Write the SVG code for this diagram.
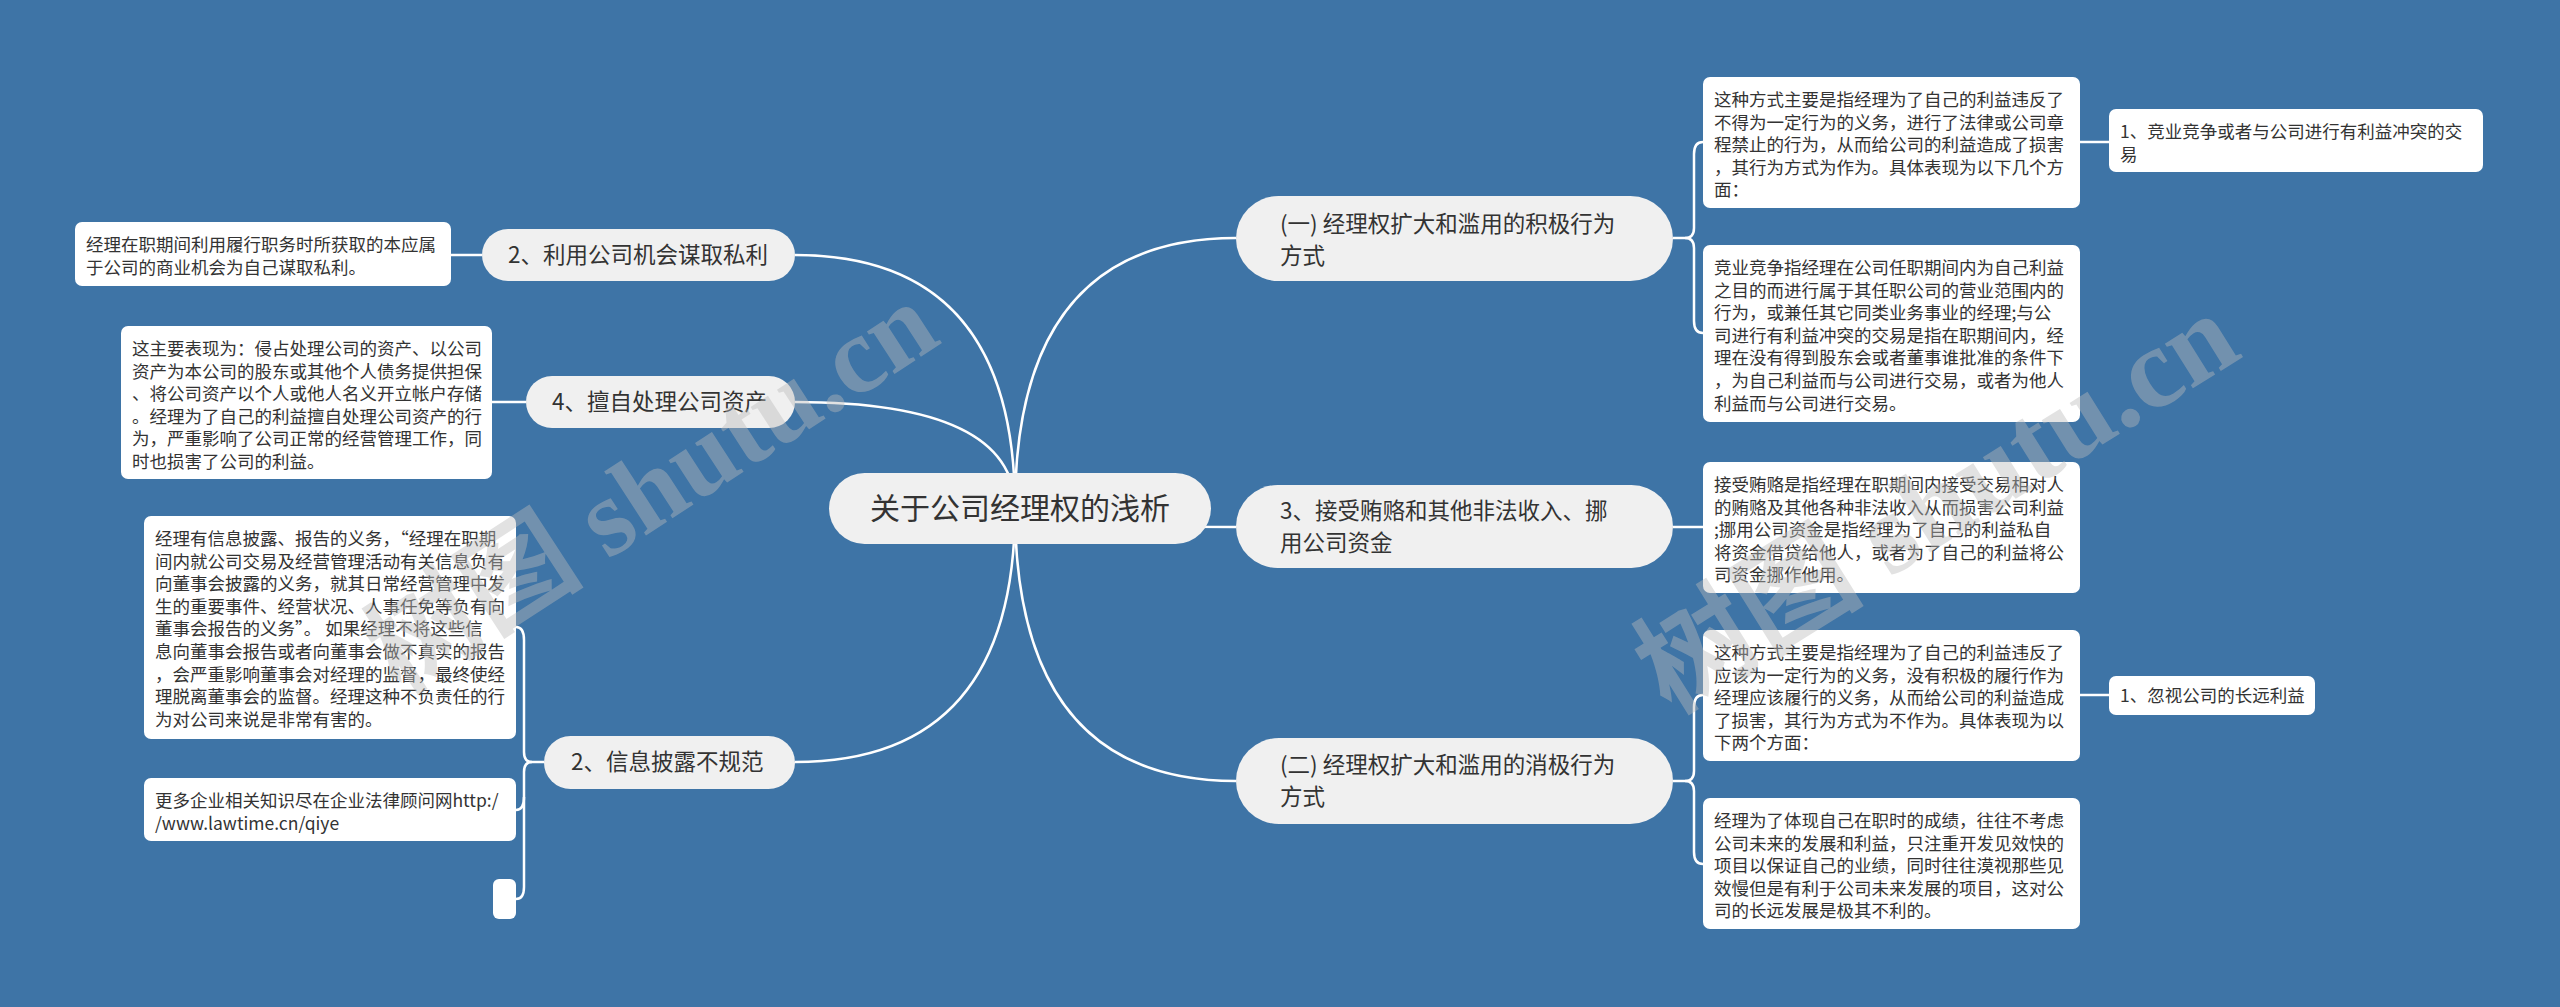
<svg xmlns="http://www.w3.org/2000/svg" width="2560" height="1007" viewBox="0 0 2560 1007">
<style>
.bg{fill:#3e74a6}
.root{fill:#f0f0f0}
.branch{fill:#f0f0f0}
.leaf{fill:#ffffff}
.ln{fill:none;stroke:#ffffff;stroke-width:2.5}
.t{font-family:"Noto Sans CJK SC","Noto Sans",sans-serif;fill:#333333}
.tr{font-size:30px}
.tb{font-size:22.5px}
.tl{font-size:17.5px}
.wm{font-family:"Liberation Serif","Noto Sans CJK SC",serif;font-weight:bold;fill:#bbbbbb;opacity:0.42}
</style>
<rect class="bg" x="0" y="0" width="2560" height="1007"/>

<g id="connectors">
<path class="ln" d="M1015 508 Q1015 255 795 255"/>
<path class="ln" d="M1015 508 Q1015 402 795 402"/>
<path class="ln" d="M1015 508 Q1015 762 795 762"/>
<path class="ln" d="M1015 508 Q1015 238 1236 238"/>
<path class="ln" d="M1015 508 Q1015 527 1236 527"/>
<path class="ln" d="M1015 508 Q1015 781 1236 781"/>
<path class="ln" d="M482 255 H451"/>
<path class="ln" d="M526 402 H492"/>
<path class="ln" d="M544 762 H532 Q524 762 524 752 V640 Q524 627 516 627"/>
<path class="ln" d="M532 762 Q524 762 524 772 V797 Q524 810 516 810"/>
<path class="ln" d="M524 797 V887 Q524 899 516 899"/>
<path class="ln" d="M1673 238 H1685 Q1694 238 1694 228 V154 Q1694 142 1703 142"/>
<path class="ln" d="M1685 238 Q1694 238 1694 248 V321 Q1694 333 1703 333"/>
<path class="ln" d="M1673 527 H1703"/>
<path class="ln" d="M1673 781 H1685 Q1694 781 1694 771 V707 Q1694 695 1703 695"/>
<path class="ln" d="M1685 781 Q1694 781 1694 791 V852 Q1694 864 1703 864"/>
<path class="ln" d="M2080 142 H2109"/>
<path class="ln" d="M2080 695 H2109"/>
</g>

<g id="root">
<rect class="root" x="829" y="473" width="382" height="71" rx="35.5"/>
<text class="t tr" x="1020" y="519" text-anchor="middle">关于公司经理权的浅析</text>
</g>

<g id="n-left1">
<rect class="branch" x="482" y="229" width="313" height="52" rx="26"/>
<text class="t tb" x="508" y="263">2、利用公司机会谋取私利</text>
</g>
<g id="n-left2">
<rect class="branch" x="526" y="376" width="269" height="52" rx="26"/>
<text class="t tb" x="552" y="410">4、擅自处理公司资产</text>
</g>
<g id="n-left3">
<rect class="branch" x="544" y="736" width="251" height="53" rx="26.5"/>
<text class="t tb" x="571" y="770">2、信息披露不规范</text>
</g>

<g id="n-right1">
<rect class="branch" x="1236" y="196" width="437" height="85" rx="42.5"/>
<text class="t tb" x="1280" y="232">(一) 经理权扩大和滥用的积极行为</text>
<text class="t tb" x="1280" y="264">方式</text>
</g>
<g id="n-right2">
<rect class="branch" x="1236" y="485" width="437" height="83" rx="41.5"/>
<text class="t tb" x="1280" y="519">3、接受贿赂和其他非法收入、挪</text>
<text class="t tb" x="1280" y="551">用公司资金</text>
</g>
<g id="n-right3">
<rect class="branch" x="1236" y="738" width="437" height="86" rx="43"/>
<text class="t tb" x="1280" y="773">(二) 经理权扩大和滥用的消极行为</text>
<text class="t tb" x="1280" y="805">方式</text>
</g>

<g id="leaf-LA">
<rect class="leaf" x="75" y="222" width="376" height="64" rx="7"/>
<text class="t tl" x="86" y="251">经理在职期间利用履行职务时所获取的本应属</text>
<text class="t tl" x="86" y="273.6">于公司的商业机会为自己谋取私利。</text>
</g>

<g id="leaf-LB">
<rect class="leaf" x="121" y="326" width="371" height="153" rx="7"/>
<text class="t tl" x="132" y="355">这主要表现为：侵占处理公司的资产、以公司</text>
<text class="t tl" x="132" y="377.6">资产为本公司的股东或其他个人债务提供担保</text>
<text class="t tl" x="132" y="400.2">、将公司资产以个人或他人名义开立帐户存储</text>
<text class="t tl" x="132" y="422.8">。经理为了自己的利益擅自处理公司资产的行</text>
<text class="t tl" x="132" y="445.4">为，严重影响了公司正常的经营管理工作，同</text>
<text class="t tl" x="132" y="468">时也损害了公司的利益。</text>
</g>

<g id="leaf-LC">
<rect class="leaf" x="144" y="516" width="372" height="223" rx="7"/>
<text class="t tl" x="155" y="545">经理有信息披露、报告的义务，“经理在职期</text>
<text class="t tl" x="155" y="567.6">间内就公司交易及经营管理活动有关信息负有</text>
<text class="t tl" x="155" y="590.2">向董事会披露的义务，就其日常经营管理中发</text>
<text class="t tl" x="155" y="612.8">生的重要事件、经营状况、人事任免等负有向</text>
<text class="t tl" x="155" y="635.4">董事会报告的义务”。 如果经理不将这些信</text>
<text class="t tl" x="155" y="658">息向董事会报告或者向董事会做不真实的报告</text>
<text class="t tl" x="155" y="680.6">，会严重影响董事会对经理的监督，最终使经</text>
<text class="t tl" x="155" y="703.2">理脱离董事会的监督。经理这种不负责任的行</text>
<text class="t tl" x="155" y="725.8">为对公司来说是非常有害的。</text>
</g>

<g id="leaf-LD">
<rect class="leaf" x="144" y="778" width="372" height="63" rx="7"/>
<text class="t tl" x="155" y="807">更多企业相关知识尽在企业法律顾问网http:/</text>
<text class="t tl" x="155" y="829.6">/www.lawtime.cn/qiye</text>
</g>

<g id="leaf-LE">
<rect class="leaf" x="493" y="879" width="23" height="40" rx="6"/>
</g>

<g id="leaf-a">
<rect class="leaf" x="1703" y="77" width="377" height="131" rx="7"/>
<text class="t tl" x="1714" y="106">这种方式主要是指经理为了自己的利益违反了</text>
<text class="t tl" x="1714" y="128.6">不得为一定行为的义务，进行了法律或公司章</text>
<text class="t tl" x="1714" y="151.2">程禁止的行为，从而给公司的利益造成了损害</text>
<text class="t tl" x="1714" y="173.8">，其行为方式为作为。具体表现为以下几个方</text>
<text class="t tl" x="1714" y="196.4">面：</text>
</g>

<g id="leaf-b">
<rect class="leaf" x="2109" y="109" width="374" height="63" rx="7"/>
<text class="t tl" x="2120" y="138">1、竞业竞争或者与公司进行有利益冲突的交</text>
<text class="t tl" x="2120" y="160.6">易</text>
</g>

<g id="leaf-c">
<rect class="leaf" x="1703" y="245" width="377" height="177" rx="7"/>
<text class="t tl" x="1714" y="274">竞业竞争指经理在公司任职期间内为自己利益</text>
<text class="t tl" x="1714" y="296.6">之目的而进行属于其任职公司的营业范围内的</text>
<text class="t tl" x="1714" y="319.2">行为，或兼任其它同类业务事业的经理;与公</text>
<text class="t tl" x="1714" y="341.8">司进行有利益冲突的交易是指在职期间内，经</text>
<text class="t tl" x="1714" y="364.4">理在没有得到股东会或者董事谁批准的条件下</text>
<text class="t tl" x="1714" y="387">，为自己利益而与公司进行交易，或者为他人</text>
<text class="t tl" x="1714" y="409.6">利益而与公司进行交易。</text>
</g>

<g id="leaf-d">
<rect class="leaf" x="1703" y="462" width="377" height="131" rx="7"/>
<text class="t tl" x="1714" y="491">接受贿赂是指经理在职期间内接受交易相对人</text>
<text class="t tl" x="1714" y="513.6">的贿赂及其他各种非法收入从而损害公司利益</text>
<text class="t tl" x="1714" y="536.2">;挪用公司资金是指经理为了自己的利益私自</text>
<text class="t tl" x="1714" y="558.8">将资金借贷给他人，或者为了自己的利益将公</text>
<text class="t tl" x="1714" y="581.4">司资金挪作他用。</text>
</g>

<g id="leaf-e">
<rect class="leaf" x="1703" y="630" width="377" height="131" rx="7"/>
<text class="t tl" x="1714" y="659">这种方式主要是指经理为了自己的利益违反了</text>
<text class="t tl" x="1714" y="681.6">应该为一定行为的义务，没有积极的履行作为</text>
<text class="t tl" x="1714" y="704.2">经理应该履行的义务，从而给公司的利益造成</text>
<text class="t tl" x="1714" y="726.8">了损害，其行为方式为不作为。具体表现为以</text>
<text class="t tl" x="1714" y="749.4">下两个方面：</text>
</g>

<g id="leaf-f">
<rect class="leaf" x="2109" y="676" width="206" height="39" rx="7"/>
<text class="t tl" x="2120" y="701.5">1、忽视公司的长远利益</text>
</g>

<g id="leaf-g">
<rect class="leaf" x="1703" y="798" width="377" height="131" rx="7"/>
<text class="t tl" x="1714" y="827">经理为了体现自己在职时的成绩，往往不考虑</text>
<text class="t tl" x="1714" y="849.6">公司未来的发展和利益，只注重开发见效快的</text>
<text class="t tl" x="1714" y="872.2">项目以保证自己的业绩，同时往往漠视那些见</text>
<text class="t tl" x="1714" y="894.8">效慢但是有利于公司未来发展的项目，这对公</text>
<text class="t tl" x="1714" y="917.4">司的长远发展是极其不利的。</text>
</g>

<g id="watermarks">
<text class="wm" x="400" y="695" font-size="110" transform="rotate(-33 400 695)">树图 shutu.cn</text>
<text class="wm" x="1670" y="715" font-size="115" transform="rotate(-32 1670 715)">树图 shutu.cn</text>
</g>
</svg>
